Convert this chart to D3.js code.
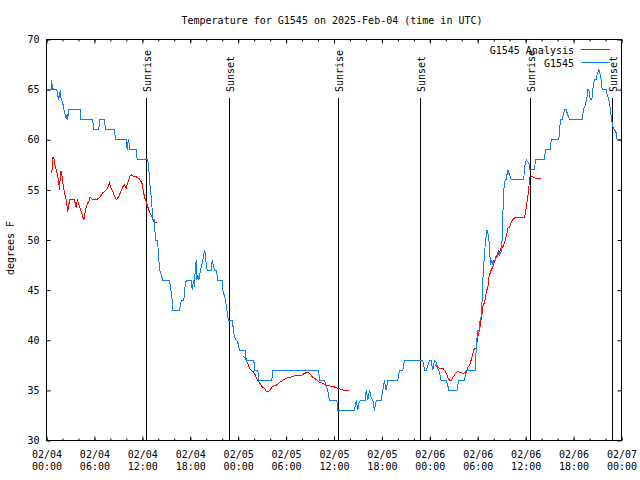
<!DOCTYPE html>
<html><head><meta charset="utf-8">
<script src="https://cdn.jsdelivr.net/npm/d3@7"></script>
<style>
body{margin:0;background:#fff;}
svg{display:block;}
text{font-family:"DejaVu Sans Mono","Liberation Mono",monospace;font-size:10px;fill:#000;}
</style></head>
<body><svg id="c" width="640" height="480"></svg>
<script>
// ---- data (minutes since 2025-02-04 00:00 UTC) ----
const titleText = "Temperature for G1545 on 2025-Feb-04 (time in UTC)";
const yLabel = "degrees F";
const seriesNames = ["G1545 Analysis", "G1545"];
const yTicks = [30,35,40,45,50,55,60,65,70];

const blueMin = [2,36,40,43,47,50,77,85,92,105,110,122,130,148,156,160,165,253,258,348,353,393,398,436,443,511,518,599,606,614,618,624,674,681,761,769,774,781,789,794,799,811,814,819,834,839,844,851,862,874,924,929,941,949,999,1007,1017,1032,1037,1050,1087,1095,1104,1112,1117,1125,1129,1137,1144,1157,1167,1174,1187,1195,1200,1207,1237,1245,1252,1262,1275,1287,1320,1325,1345,1355,1362,1370,1395,1405,1412,1425,1437,1450,1495,1500,1558,1563,1588,1595,1693,1700,2044,2051,2089,2101,2113,2126,2181,2189,2314,2327,2339,2346,2357,2394,2402,2414,2427,2439,2452,2464,2472,2481,2514,2527,2539,2552,2564,2639,2652,2677,2690,2827,2840,2852,2865,2877,2890,2902,2915,2927,2940,2953,2965,3003,3015,3022,3083,3090,3098,3140,3153,3223,3228,3240,3253,3258,3266,3273,3278,3285,3296,3308,3316,3323,3328,3336,3345,3353,3360,3371,3378,3386,3398,3403,3416,3423,3428,3435,3446,3453,3466,3473,3479,3491,3586,3591,3604,3616,3624,3629,3666,3674,3741,3749,3784,3792,3849,3854,3862,3874,3884,3892,3904,3916,3929,4025,4034,4049,4059,4067,4074,4085,4097,4104,4117,4130,4137,4149,4160,4167,4175,4205,4212,4225,4237,4245,4255,4268,4280,4287,4318];
const blueTemp = [65,65,66,65,65.6,65,65,64.4,64,65,64,63.7,63,62.1,62.6,62,63,63,62,62,61,61,62,62,61,61,60,60,59,60,60,59,59,58,58,57,56,55,54,53,52,52,51,50,50,49,48,47,46.5,46,46,45.5,44.5,43,43,43.7,44,44,45,46,46,45,46,45.3,47,48,46,46.5,46,47,47.5,48,49,48.5,47.5,47,47,48,47.5,47,47,46,46,45,44,43,42.3,42,42,41,40.3,40,39.8,39,39,38,38,37,37,36,36,37,37,36,36,35.5,35,34,34,33,33,34,33,33.7,34,34,35,34,35,34.3,34,33,33.7,34,34,35,36,35,36,36,37,37,38,38,37,37,37.5,38,38,37,38,37.8,37.2,36.8,36,36,35.5,35,35,35.5,36,36,37,37,39.2,41,41,42.2,42.3,44,46,47.5,49.5,51,50.7,50.3,49.2,47.5,48,47.5,48,48,48.5,48.5,49,48.5,48.8,50,52.3,55,56,56,57,56.7,56.5,56,56,57.3,58,57.8,57.7,57,57,58,58,59,59,60,60,61,62,62,62.5,63,63,62.5,62,62,63,63.5,64,65,65,64,64,65,66,66,66.5,67,66.5,66,65,65,64.5,64,63,62,61.3,61,60.7,60,60];

const redMin = [40,47,55,60,73,85,92,98,105,113,122,135,148,160,173,186,210,223,231,240,248,261,273,280,291,298,310,323,328,348,373,398,423,449,461,473,481,498,524,536,548,573,586,599,611,624,636,648,674,699,719,729,736,749,761,774,786,799,811,829,
 null,
 1475,1488,1500,1512,1525,1538,1550,1563,1575,1588,1613,1625,1638,1651,1670,1688,1700,1726,1751,1775,1801,1826,1876,1914,1938,1963,1976,2001,2026,2051,2076,2101,2151,2189,2214,2239,2276,
 null,
 2923,2940,2953,2978,2990,3003,3015,3028,3040,3053,3065,3078,3090,3103,3128,3153,3165,3178,3190,3203,3215,3228,3240,3253,3261,3273,3278,3285,3291,3298,3308,3316,3323,3333,3341,3353,3360,3366,3378,3391,3403,3416,3428,3441,3453,3461,3466,3479,3491,3503,3516,3591,3599,3604,3616,3624,3629,3641,3654,3666,3679,3717];
const redTemp = [56.7,58.2,58.2,57.7,57,56.3,55.7,55,56.8,56.8,55.7,54.7,54,52.8,54,54,54,53.2,54,53.7,53.3,52.8,52.3,52,52.8,53.3,53.7,54,54.3,54,54,54.2,54.7,55,55.2,55.7,55.3,54.8,54,54.2,54.5,55.3,55.5,55.2,55.7,56.3,56.5,56.4,56.3,56.1,55.6,54.8,54.3,53.8,53.3,52.8,52.5,52.1,51.7,51.7,
 null,
 38.4,38.3,38,37.7,37.2,37,36.9,36.7,36.3,36,35.5,35.3,35.2,34.9,34.9,35.2,35.4,35.5,35.8,36,36.2,36.3,36.5,36.5,36.7,36.8,36.7,36.3,36.1,35.8,35.7,35.5,35.4,35.2,35.1,35,35,
 null,
 37.5,37.3,37.2,37.2,37,36.7,36.3,36,36,36.3,36.5,36.8,36.9,36.8,36.7,36.8,37.3,37.5,38,38.7,39.2,39.2,40.3,41,41.7,42.7,43.3,43.7,43.7,44.3,45,45.3,46.2,46.7,47,47.3,47.7,47.8,48.2,48.5,48.8,49.2,49.3,49.7,50.3,50.8,51.2,51.3,51.7,52,52.2,52.2,52.7,53.2,54.3,55.2,56.2,56.3,56.3,56.2,56.1,56.1];

const sunMin = [751,1375,2194,2810,3636,4252];
const sunLabel = ["Sunrise","Sunset","Sunrise","Sunset","Sunrise","Sunset"];

const colors = ["#ff0000","#0a80f0"];

// ---- chart ----
const t0 = Date.UTC(2025,1,4,0,0);
const toDate = m => new Date(t0 + m*60000);
const L=46.5, R=621.5, T=39.5, B=440.5;
const svg = d3.select("#c");
const x = d3.scaleUtc().domain([toDate(0), toDate(4320)]).range([L,R]);
const y = d3.scaleLinear().domain([30,70]).range([B,T]);

// title
svg.append("text").attr("x",332).attr("y",23.5).attr("text-anchor","middle").text(titleText);

// minor x ticks
const minorVals = d3.utcHour.every(2).range(toDate(0), toDate(4321));
svg.append("g").attr("transform",`translate(0,${B})`)
  .call(d3.axisBottom(x).tickValues(minorVals).tickSize(-2).tickFormat(""))
  .call(g=>g.select(".domain").remove());
svg.append("g").attr("transform",`translate(0,${T})`)
  .call(d3.axisTop(x).tickValues(minorVals).tickSize(-2).tickFormat(""))
  .call(g=>g.select(".domain").remove());
// major x ticks
const majorVals = d3.utcHour.every(6).range(toDate(0), toDate(4321));
const bx = svg.append("g").attr("transform",`translate(0,${B})`)
  .call(d3.axisBottom(x).tickValues(majorVals).tickSize(-4).tickPadding(10).tickFormat(d3.utcFormat("%m/%d")))
  .call(g=>g.select(".domain").remove());
bx.selectAll(".tick text").each(function(d){
  const t = d3.select(this); t.text(null).attr("dy",null).attr("y",null);
  t.append("tspan").attr("x",0).attr("y",17).text(d3.utcFormat("%m/%d")(d));
  t.append("tspan").attr("x",0).attr("y",29).text(d3.utcFormat("%H:%M")(d));
});
svg.append("g").attr("transform",`translate(0,${T})`)
  .call(d3.axisTop(x).tickValues(majorVals).tickSize(-4).tickFormat(""))
  .call(g=>g.select(".domain").remove());
// y ticks
svg.append("g").attr("transform",`translate(${L},0)`)
  .call(d3.axisLeft(y).tickValues(yTicks).tickSize(-4).tickPadding(7))
  .call(g=>g.select(".domain").remove());
svg.append("g").attr("transform",`translate(${R},0)`)
  .call(d3.axisRight(y).tickValues(yTicks).tickSize(-4).tickFormat(""))
  .call(g=>g.select(".domain").remove());
svg.selectAll(".tick line").attr("stroke","#000");
svg.selectAll(".tick text").style("font-family",'"DejaVu Sans Mono","Liberation Mono",monospace').style("font-size","10px");

// frame
svg.append("rect").attr("x",L).attr("y",T).attr("width",R-L).attr("height",B-T)
  .attr("fill","none").attr("stroke","#000").attr("stroke-width",1);

// y label
svg.append("text").attr("transform","translate(14,248) rotate(-90)").attr("text-anchor","middle").text(yLabel);

// sunrise / sunset
sunMin.forEach((m,i)=>{
  const xp = Math.round(x(toDate(m))-0.5)+0.5;
  svg.append("line").attr("x1",xp).attr("x2",xp).attr("y1",98).attr("y2",B).attr("stroke","#000");
  svg.append("text").attr("transform",`translate(${xp+4.5},92) rotate(-90)`).attr("text-anchor","start").text(sunLabel[i]);
});

// lines
const line = d3.line().defined(d=>d[1]!=null).x(d=>x(toDate(d[0]))).y(d=>y(d[1]));
const redData = redMin.map((m,i)=>[m,redTemp[i]]);
const blueData = blueMin.map((m,i)=>[m,blueTemp[i]]);
svg.append("path").datum(redData).attr("d",line).attr("fill","none").attr("stroke",colors[0]).attr("stroke-width",1).attr("shape-rendering","crispEdges");
svg.append("path").datum(blueData).attr("d",line).attr("fill","none").attr("stroke",colors[1]).attr("stroke-width",1).attr("shape-rendering","crispEdges");

// legend
const leg = svg.append("g");
[0,1].forEach(i=>{
  const yy = 50.5 + i*13;
  leg.append("text").attr("x",574).attr("y",yy).attr("dy","0.35em").attr("text-anchor","end").text(seriesNames[i]);
  leg.append("line").attr("x1",581).attr("x2",610).attr("y1",yy-1).attr("y2",yy-1).attr("stroke",colors[i]);
});
</script></body></html>
